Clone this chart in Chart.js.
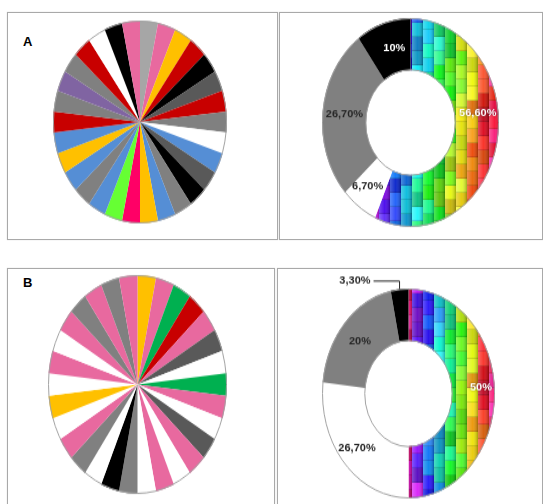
<!DOCTYPE html>
<html>
<head>
<meta charset="utf-8">
<script src="https://cdn.jsdelivr.net/npm/chart.js@4.4.0/dist/chart.umd.min.js"></script>
<style>
html,body{margin:0;padding:0;background:#fff;width:543px;height:504px;overflow:hidden;position:relative;font-family:"Liberation Sans",Arial,sans-serif;}
.panel{position:absolute;box-sizing:border-box;border:1px solid #a9a9a9;box-shadow:0 0 1px #d0d0d0;}
.letter{position:absolute;font-weight:bold;font-size:13px;line-height:13px;color:#000;}
.wrap{position:absolute;transform-origin:50% 50%;}
.wrap canvas{display:block;}
</style>
</head>
<body>
<div class="panel" style="left:7px;top:12px;width:271px;height:228px"></div>
<div class="panel" style="left:279px;top:12px;width:264px;height:228px"></div>
<div class="panel" style="left:7px;top:268px;width:268px;height:260px"></div>
<div class="panel" style="left:277px;top:268px;width:266px;height:260px"></div>
<div class="letter" style="left:23px;top:35px">A</div>
<div class="letter" style="left:23px;top:276px">B</div>
<script>
// ---------- DATA ----------
const pieACategories = ['1','2','3','4','5','6','7','8','9','10','11','12','13','14','15','16','17','18','19','20','21','22','23','24','25','26','27','28','29','30'];
const pieAValues = [1,1,1,1,1,1,1,1,1,1,1,1,1,1,1,1,1,1,1,1,1,1,1,1,1,1,1,1,1,1];
const pieBCategories = ['1','2','3','4','5','6','7','8','9','10','11','12','13','14','15','16','17','18','19','20','21','22','23','24','25','26','27','28','29','30'];
const pieBValues = [1,1,1,1,1,1,1,1,1,1,1,1,1,1,1,1,1,1,1,1,1,1,1,1,1,1,1,1,1,1];

const donutACategories = ['Colour','White','Grey','Black'];
const donutAValues = [56.6, 6.7, 26.7, 10];
const donutALabels = ['56,60%', '6,70%', '26,70%', '10%'];

const donutBCategories = ['Colour','White','Grey','Black'];
const donutBValues = [50, 26.7, 20, 3.3];
const donutBLabels = ['50%', '26,70%', '20%', '3,30%'];

// ---------- STYLES ----------
const LG='#A6A6A6', PK='#E8699F', YE='#FFC000', RD='#C80000', BK='#000000', DG='#595959',
      GR='#808080', WH='#FFFFFF', BL='#558ED5', HP='#FF0066', LGN='#66FF33', PU='#8064A2', GN='#00B050';
const pieAColors = [LG,PK,YE,RD,BK,DG,RD,GR,WH,BL,DG,BK,GR,BL,YE,HP,LGN,BL,GR,BL,YE,BL,RD,GR,PU,GR,RD,WH,BK,PK];
const pieBColors = [YE,PK,GN,RD,PK,DG,WH,GN,PK,WH,DG,PK,WH,PK,WH,GR,BK,WH,GR,PK,WH,YE,WH,PK,WH,PK,GR,PK,GR,PK];

const donutALabelColors = ['#ffffff','#262626','#262626','#ffffff'];
const donutALabelAngle  = [0.41, 0.62, 0.5, 0.6];
const donutALabelRadius = [0.53, 0.55, 0.5, 0.47];
const donutBLabelColors = ['#ffffff','#262626','#262626','#262626'];
const donutBLabelAngle  = [0.478, 0.506, 0.49, 0.5];
const donutBLabelRadius = [0.68, 0.586, 0.496, 0.5];

const PAD = 20;

function hash(a,b){ const s=Math.sin(a*127.1+b*311.7)*43758.5453; return s-Math.floor(s); }

function mosaic(size, W, hueFn){
  const c=document.createElement('canvas'); c.width=size; c.height=size;
  const g=c.getContext('2d');
  const bw=11, bh=12;
  for(let col=0; col*bw<size; col++){
    const off=(col%2)?bh/2:0;
    for(let row=-1; row*bh<size; row++){
      const x=col*bw, y=row*bh+off;
      const n1=hash(col,row), n2=hash(col+17,row+5);
      const u=(x+bw/2-PAD)/W, v=(y+bh/2-PAD)/W;
      const h=hueFn(u,v)+(n1-0.5)*45;
      const l=38+n2*20;
      g.fillStyle='hsl('+h+',95%,'+l+'%)'; g.fillRect(x,y,bw,bh);
      const gr=g.createLinearGradient(x,0,x+bw,0);
      gr.addColorStop(0,'rgba(255,255,255,0.28)');
      gr.addColorStop(0.5,'rgba(255,255,255,0.05)');
      gr.addColorStop(1,'rgba(0,0,0,0.3)');
      g.fillStyle=gr; g.fillRect(x,y,bw,bh);
      g.fillStyle='rgba(0,0,0,0.15)'; g.fillRect(x,y+bh-1,bw,1);
    }
  }
  return g.createPattern(c,'no-repeat');
}

const outlinePlugin = {
  id:'outline',
  afterDatasetsDraw(chart){
    const arc=chart.getDatasetMeta(0).data[0];
    const p=arc.getProps(['x','y','innerRadius','outerRadius'],true);
    const ctx=chart.ctx;
    ctx.save(); ctx.strokeStyle='#a3a3a3'; ctx.lineWidth=1;
    ctx.beginPath(); ctx.arc(p.x,p.y,p.outerRadius-0.5,0,Math.PI*2); ctx.stroke();
    if(p.innerRadius>0){ ctx.beginPath(); ctx.arc(p.x,p.y,p.innerRadius+0.5,0,Math.PI*2); ctx.stroke(); }
    ctx.restore();
  }
};

function labelPlugin(labels, colors, angF, radF, k, calloutIndex){
  return {
    id:'labels',
    afterDatasetsDraw(chart){
      const ctx=chart.ctx;
      chart.getDatasetMeta(0).data.forEach((arc,i)=>{
        const p=arc.getProps(['x','y','startAngle','endAngle','innerRadius','outerRadius'],true);
        ctx.save();
        ctx.font='bold 11px "Liberation Sans", Arial, sans-serif';
        ctx.textBaseline='middle';
        if(i===calloutIndex){
          const a=(p.startAngle+p.endAngle)/2;
          const ex=p.x+Math.cos(a)*p.outerRadius, ey=p.y+Math.sin(a)*p.outerRadius;
          const ly=ey-8/k, lx=ex-26;
          ctx.strokeStyle='#262626'; ctx.lineWidth=1;
          ctx.beginPath(); ctx.moveTo(ex,ey); ctx.lineTo(ex,ly); ctx.lineTo(lx,ly); ctx.stroke();
          ctx.translate(lx-3,ly); ctx.scale(1,1/k);
          ctx.textAlign='right'; ctx.fillStyle=colors[i];
          ctx.fillText(labels[i],0,0);
        } else {
          const a=p.startAngle+(p.endAngle-p.startAngle)*angF[i];
          const r=p.innerRadius+(p.outerRadius-p.innerRadius)*radF[i];
          ctx.translate(p.x+Math.cos(a)*r, p.y+Math.sin(a)*r); ctx.scale(1,1/k);
          ctx.textAlign='center'; ctx.fillStyle=colors[i];
          if(colors[i]==='#ffffff'){ ctx.shadowColor='rgba(0,0,0,0.45)'; ctx.shadowBlur=2; }
          ctx.fillText(labels[i],0,0);
        }
        ctx.restore();
      });
    }
  };
}

function makeChart(cx, cy, rx, ry, labels, values, colorsFn, cutout, extraPlugin){
  const W=2*rx, size=W+2*PAD, k=ry/rx;
  const wrap=document.createElement('div');
  wrap.className='wrap';
  wrap.style.left=(cx-size/2)+'px'; wrap.style.top=(cy-size/2)+'px';
  wrap.style.width=size+'px'; wrap.style.height=size+'px';
  wrap.style.transform='scaleY('+k+')';
  const canvas=document.createElement('canvas');
  wrap.appendChild(canvas); document.body.appendChild(wrap);
  const plugins=[outlinePlugin];
  if(extraPlugin) plugins.push(extraPlugin(k));
  new Chart(canvas,{
    type: cutout ? 'doughnut' : 'pie',
    data:{labels:labels, datasets:[{data:values, backgroundColor:colorsFn(size,W), borderWidth:0, hoverOffset:0}]},
    options:{
      responsive:true, maintainAspectRatio:false, animation:false, events:[],
      cutout: cutout || 0,
      layout:{padding:PAD},
      plugins:{legend:{display:false}, tooltip:{enabled:false}}
    },
    plugins:plugins
  });
}

// Panel A pie
makeChart(140, 121.5, 87, 101.5, pieACategories, pieAValues, ()=>pieAColors, 0, null);
// Panel A doughnut
makeChart(410.5, 122.5, 88.5, 104.5, donutACategories, donutAValues,
  (size,W)=>[mosaic(size,W,(u,v)=>300-(u-0.3)*478+(0.5-v)*50), '#FFFFFF', '#808080', '#000000'], '50%',
  (k)=>labelPlugin(donutALabels, donutALabelColors, donutALabelAngle, donutALabelRadius, k, -1));
// Panel B pie
makeChart(137.5, 384.5, 89.5, 109.5, pieBCategories, pieBValues, ()=>pieBColors, 0, null);
// Panel B doughnut
makeChart(408.5, 393, 86.5, 105, donutBCategories, donutBValues,
  (size,W)=>[mosaic(size,W,(u,v)=>310-(u-0.5)*700), '#FFFFFF', '#808080', '#000000'], '50%',
  (k)=>labelPlugin(donutBLabels, donutBLabelColors, donutBLabelAngle, donutBLabelRadius, k, 3));
</script>
</body>
</html>
